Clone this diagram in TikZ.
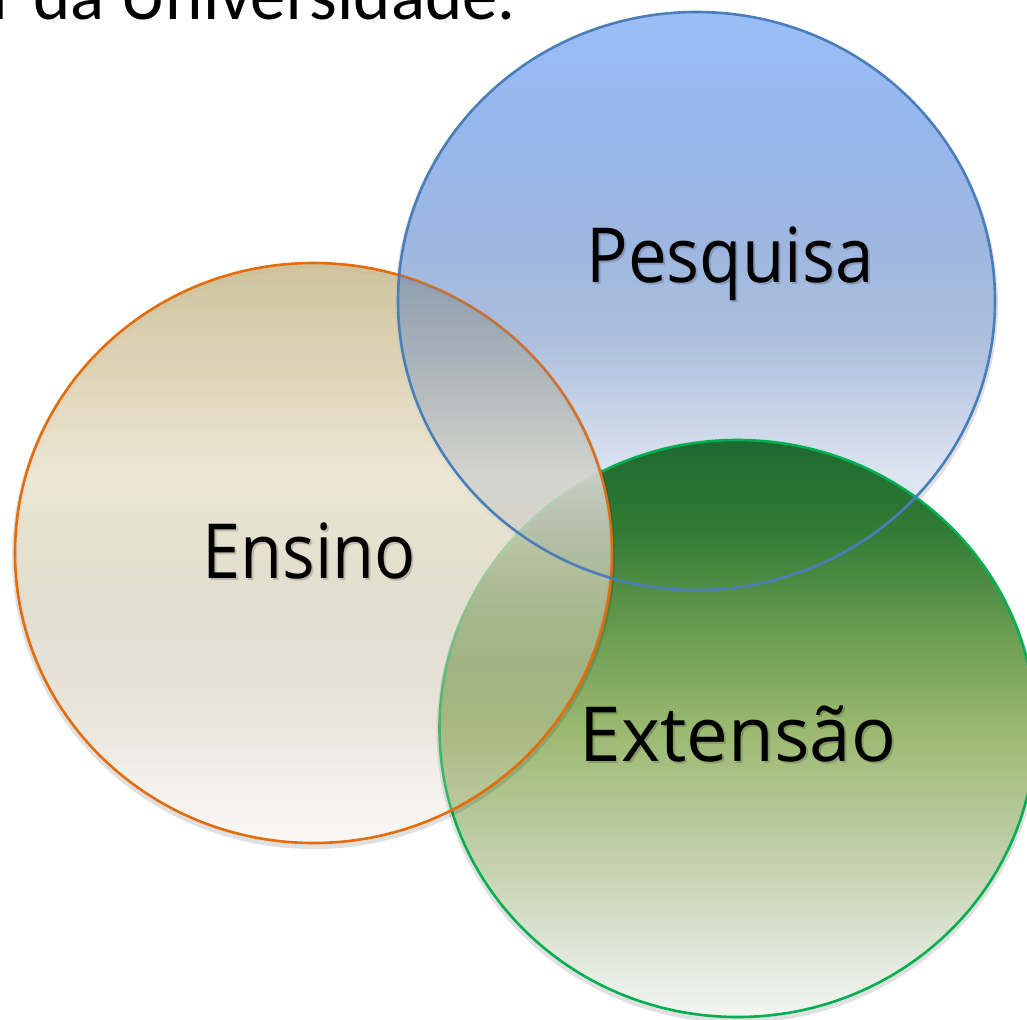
\documentclass[tikz,border=0pt]{standalone}
\usepackage{fontspec}
\setmainfont{Open Sans}
\newfontfamily\topfont{Carlito}
\usetikzlibrary{fadings}

% ---------- colours ----------
\definecolor{bB0}{RGB}{235,238,245}
\definecolor{bB1}{RGB}{220,228,240}
\definecolor{bB2}{RGB}{200,212,232}
\definecolor{bB3}{RGB}{170,189,221}
\definecolor{bB4}{RGB}{158,183,224}
\definecolor{bB5}{RGB}{150,183,236}
\definecolor{bB6}{RGB}{155,190,248}

\definecolor{gB0}{RGB}{244,245,242}
\definecolor{gB1}{RGB}{220,228,212}
\definecolor{gB2}{RGB}{190,205,165}
\definecolor{gB3}{RGB}{155,185,112}
\definecolor{gB4}{RGB}{95,150,75}
\definecolor{gB5}{RGB}{48,122,52}
\definecolor{gB6}{RGB}{30,105,48}

\definecolor{eC0}{RGB}{225,220,210}
\definecolor{eC1}{RGB}{195,186,161}
\definecolor{eC2}{RGB}{216,209,186}
\definecolor{eC3}{RGB}{235,229,208}
\definecolor{eC4}{RGB}{203,189,147}

\definecolor{oC0}{RGB}{120,145,190}
\definecolor{oC1}{RGB}{105,140,200}
\definecolor{oC2}{RGB}{85,125,195}

\definecolor{blueline}{RGB}{74,126,187}
\definecolor{orangeline}{RGB}{228,108,10}
\definecolor{greenline}{RGB}{0,176,80}

% ---------- shadings (vertical: 25bp = bottom of path, 75bp = top) ----------
\pgfdeclareverticalshading{bluebase}{100bp}{color(0bp)=(bB0); color(25bp)=(bB0); color(35bp)=(bB1); color(40bp)=(bB2); color(47.5bp)=(bB3); color(55bp)=(bB4); color(65bp)=(bB5); color(75bp)=(bB6); color(100bp)=(bB6)}
\pgfdeclareverticalshading{greenbase}{100bp}{color(0bp)=(gB0); color(25bp)=(gB0); color(31.5bp)=(gB1); color(40bp)=(gB2); color(50bp)=(gB3); color(60bp)=(gB4); color(67.5bp)=(gB5); color(75bp)=(gB6); color(100bp)=(gB6)}
\pgfdeclareverticalshading{enscol}{100bp}{color(0bp)=(eC0); color(25bp)=(eC0); color(35bp)=(eC1); color(47.5bp)=(eC2); color(56.5bp)=(eC3); color(75bp)=(eC4); color(100bp)=(eC4)}
\pgfdeclareverticalshading{ensalpha}{100bp}{color(0bp)=(white!20!black); color(25bp)=(white!20!black); color(35bp)=(white!35!black); color(47.5bp)=(white!70!black); color(56.5bp)=(white!90!black); color(75bp)=(white!90!black); color(100bp)=(white!90!black)}
\pgfdeclareverticalshading{bovcol}{100bp}{color(0bp)=(oC0); color(35bp)=(oC0); color(45bp)=(oC1); color(55bp)=(oC2); color(100bp)=(oC2)}
\pgfdeclareverticalshading{bovalpha}{100bp}{color(0bp)=(white!5!black); color(25bp)=(white!5!black); color(35bp)=(white!18!black); color(45bp)=(white!40!black); color(55bp)=(white!55!black); color(100bp)=(white!55!black)}

\begin{tikzfadingfrompicture}[name=ensfade]
  \shade[shading=ensalpha] (-25bp,-25bp) rectangle (25bp,25bp);
\end{tikzfadingfrompicture}
\begin{tikzfadingfrompicture}[name=bovfade]
  \shade[shading=bovalpha] (-25bp,-25bp) rectangle (25bp,25bp);
\end{tikzfadingfrompicture}

\tikzset{
  circshadow/.style={draw=black, draw opacity=0.12, line width=6pt},
  circline/.style={line width=2.6pt},
  label/.style={font=\fontsize{76}{90}\selectfont, text=black, inner sep=0pt, anchor=base},
  labelshadow/.style={label, text=black, text opacity=0.17},
}

\begin{document}
\begin{tikzpicture}[x=1pt,y=1pt]
  \useasboundingbox (0,0) rectangle (1027,-1019);
  \clip (0,0) rectangle (1027,-1019);
  \fill[white] (0,0) rectangle (1027,-1019);

  \coordinate (P) at (696.5,-301);
  \coordinate (E) at (313.5,-553);
  \coordinate (G) at (737.5,-728.5);

  % title text cut at the top
  \node[font=\topfont\fontsize{71}{80}\selectfont, anchor=base west, inner sep=0pt] (title) at (-8,-20) {r da Universidade.};

  % Pesquisa (blue) base
  \draw[circshadow] ([yshift=-3pt]P) ellipse [x radius=298.5, y radius=289];
  \shade[shading=bluebase] (P) ellipse [x radius=298.5, y radius=289];

  % Extensao (green)
  \draw[circshadow] ([yshift=-3pt]G) ellipse [x radius=298, y radius=288.5];
  \shade[shading=greenbase] (G) ellipse [x radius=298, y radius=288.5];
  \draw[circline, greenline] (G) ellipse [x radius=298, y radius=288.5];

  % Ensino (beige, semi-transparent)
  \draw[circshadow] ([yshift=-3pt]E) ellipse [x radius=298.5, y radius=290];
  \shade[shading=enscol, path fading=ensfade] (E) ellipse [x radius=298.5, y radius=290];
  \draw[circline, orangeline] (E) ellipse [x radius=298.5, y radius=290];

  % blue veil over Ensino
  \begin{scope}
    \clip (E) ellipse [x radius=298.5, y radius=290];
    \shade[shading=bovcol, path fading=bovfade] (P) ellipse [x radius=298.5, y radius=289];
  \end{scope}
  \draw[circline, blueline] (P) ellipse [x radius=298.5, y radius=289];

  % labels
  \node[labelshadow] (pesqS) at (732,-284) {\scalebox{0.91}[1]{Pesquisa}};
  \node[label] (pesq) at (730,-282) {\scalebox{0.91}[1]{Pesquisa}};
  \node[labelshadow] (ensS) at (311,-580) {\scalebox{0.9}[1]{Ensino}};
  \node[label] (ens) at (309,-578) {\scalebox{0.9}[1]{Ensino}};
  \node[labelshadow] (extS) at (740,-763) {\scalebox{0.98}[1]{Extensão}};
  \node[label] (ext) at (738,-761) {\scalebox{0.98}[1]{Extensão}};
\end{tikzpicture}
\end{document}
